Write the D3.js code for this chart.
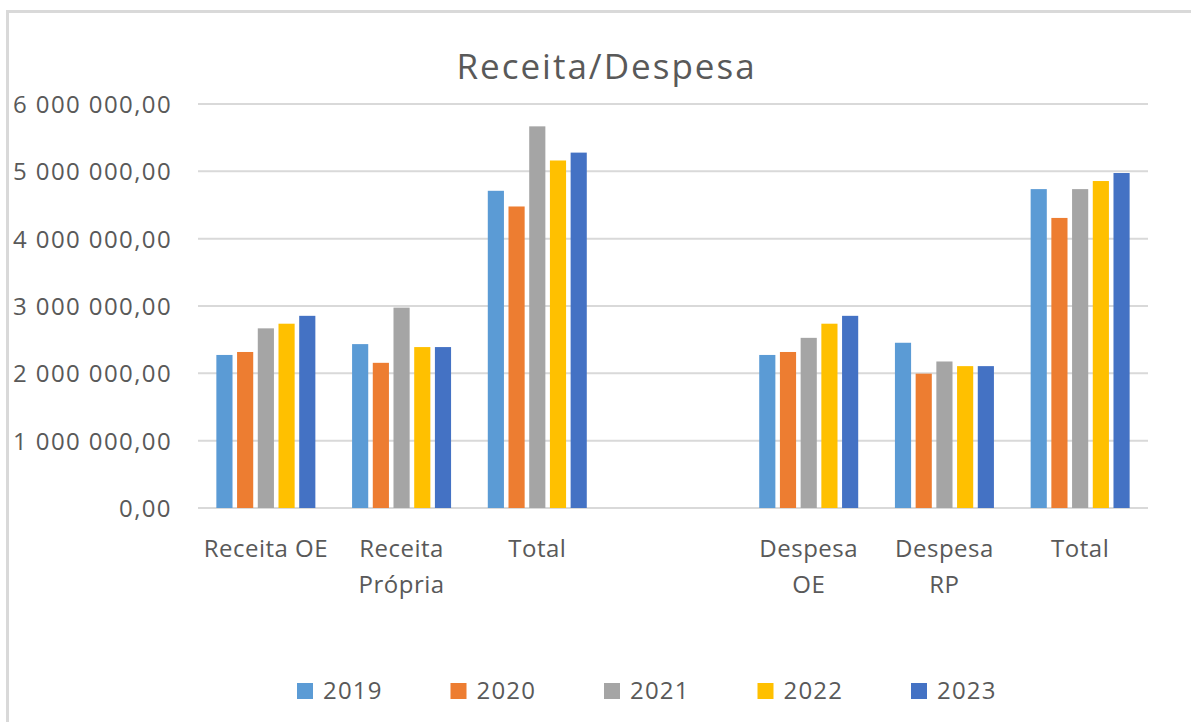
<!DOCTYPE html>
<html>
<head>
<meta charset="utf-8">
<script src="https://cdn.jsdelivr.net/npm/d3@7"></script>
<style>
  html, body { margin: 0; padding: 0; background: #fff; }
  svg { display: block; }
  text { font-family: "Open Sans", "Noto Sans", sans-serif; fill: #595959; }
</style>
</head>
<body>
<svg id="chart" width="1191" height="722"></svg>
<script>
const title = "Receita/Despesa";
const categories = ["Receita OE", "Receita Própria", "Total", "", "Despesa OE", "Despesa RP", "Total"];
const years = ["2019", "2020", "2021", "2022", "2023"];
const colors = ["#5B9BD5", "#ED7D31", "#A5A5A5", "#FFC000", "#4472C4"];
const values2019 = [2273000, 2434000, 4711000, null, 2273000, 2454000, 4736000];
const values2020 = [2317000, 2156000, 4478000, null, 2317000, 1995000, 4308000];
const values2021 = [2668000, 2976000, 5668000, null, 2527000, 2176000, 4736000];
const values2022 = [2737000, 2390000, 5161000, null, 2737000, 2107000, 4856000];
const values2023 = [2854000, 2390000, 5278000, null, 2854000, 2107000, 4975000];
const yTicks = [0, 1000000, 2000000, 3000000, 4000000, 5000000, 6000000];

const series = [values2019, values2020, values2021, values2022, values2023];

const svg = d3.select("#chart");

// chart border (left and top visible)
svg.append("path")
  .attr("d", "M7.5,722 V11.5 H1191")
  .attr("fill", "none")
  .attr("stroke", "#d9d9d9")
  .attr("stroke-width", 3);

const plot = { left: 198, right: 1148, top: 104, bottom: 508 };

const x0 = d3.scaleBand()
  .domain(d3.range(categories.length))
  .range([plot.left, plot.right])
  .paddingInner(0.237)
  .paddingOuter(0.1185);

const x1 = d3.scaleBand()
  .domain(years)
  .range([0, x0.bandwidth()])
  .paddingInner(0.22)
  .paddingOuter(0.11);

const y = d3.scaleLinear().domain([0, 6000000]).range([plot.bottom, plot.top]);

const locale = d3.formatLocale({ decimal: ",", thousands: " ", grouping: [3], currency: ["", ""] });
const fmt = locale.format(",.2f");

// gridlines
svg.append("g")
  .selectAll("line")
  .data(yTicks)
  .join("line")
  .attr("x1", plot.left)
  .attr("x2", plot.right)
  .attr("y1", d => y(d))
  .attr("y2", d => y(d))
  .attr("stroke", "#d9d9d9")
  .attr("stroke-width", 2);

// y axis labels
const yAxis = d3.axisLeft(y).tickValues(yTicks).tickFormat(fmt).tickSize(0).tickPadding(0);
const yg = svg.append("g").attr("transform", "translate(172,0)").call(yAxis);
yg.select(".domain").remove();
yg.selectAll("text")
  .attr("font-size", 24)
  .attr("letter-spacing", 1.4)
  .attr("font-family", "Open Sans")
  .attr("fill", "#595959")
  .attr("dy", "0.36em");

// bars
const groups = svg.append("g")
  .selectAll("g")
  .data(categories.map((c, i) => i))
  .join("g")
  .attr("transform", i => `translate(${x0(i)},0)`);

groups.selectAll("rect")
  .data(i => years.map((yr, k) => ({ yr, k, v: series[k][i] })).filter(d => d.v != null))
  .join("rect")
  .attr("x", d => x1(d.yr))
  .attr("width", x1.bandwidth())
  .attr("y", d => y(d.v))
  .attr("height", d => y(0) - y(d.v))
  .attr("fill", d => colors[d.k]);

// x axis labels
const xAxis = d3.axisBottom(x0).tickFormat(i => categories[i]).tickSize(0).tickPadding(0);
const xg = svg.append("g").attr("transform", `translate(0,${plot.bottom})`).call(xAxis);
xg.select(".domain").remove();
const maxW = x0.step() * 0.96;
xg.selectAll("text").each(function(i) {
  const t = d3.select(this);
  const label = categories[i];
  t.text(null)
    .attr("font-size", 24)
    .attr("letter-spacing", 0.5)
    .attr("font-family", "Open Sans")
    .attr("fill", "#595959")
    .attr("y", 0)
    .attr("dy", null);
  const probe = t.append("tspan").text(label);
  let lines = [label];
  if (probe.node().getComputedTextLength() > maxW && label.includes(" ")) {
    const idx = label.lastIndexOf(" ");
    lines = [label.slice(0, idx), label.slice(idx + 1)];
  }
  probe.remove();
  lines.forEach((ln, j) => {
    t.append("tspan").attr("x", 0).attr("y", 49 + j * 35.6).text(ln);
  });
});

// title
svg.append("text")
  .attr("x", 606.5)
  .attr("y", 79)
  .attr("text-anchor", "middle")
  .attr("font-size", 35)
  .attr("letter-spacing", 2)
  .text(title);

// legend
const legend = svg.append("g")
  .selectAll("g")
  .data(years)
  .join("g")
  .attr("transform", (d, i) => `translate(${297 + i * 153.5},683)`);
legend.append("rect")
  .attr("width", 16)
  .attr("height", 16)
  .attr("fill", (d, i) => colors[i]);
legend.append("text")
  .attr("x", 26)
  .attr("y", 16)
  .attr("font-size", 24)
  .attr("letter-spacing", 1.2)
  .text(d => d);
</script>
</body>
</html>
